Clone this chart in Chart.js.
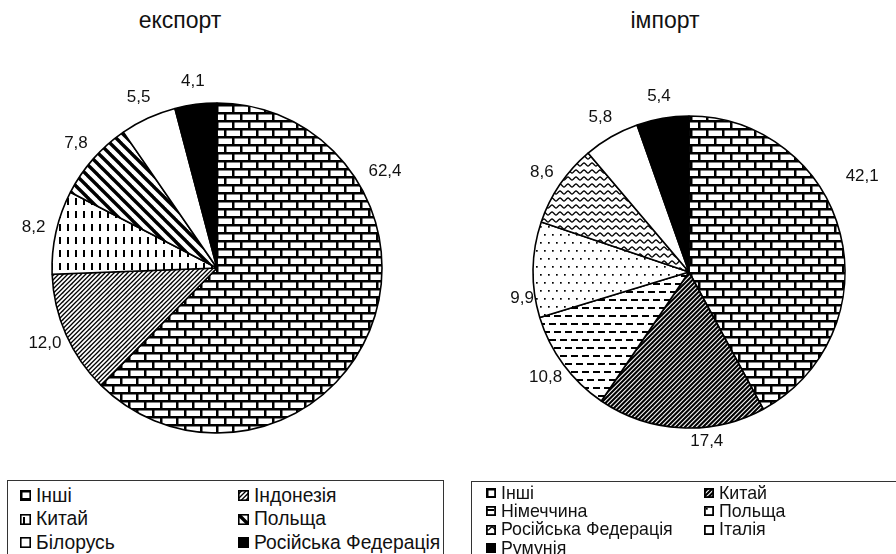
<!DOCTYPE html>
<html><head><meta charset="utf-8">
<script src="https://cdn.jsdelivr.net/npm/chart.js@4"></script>
<style>
body{margin:0;width:896px;height:554px;overflow:hidden;background:#fff;position:relative;font-family:"Liberation Sans",Arial,sans-serif;color:#111}
.title{position:absolute;font-size:23px;line-height:23px;white-space:nowrap;transform:translateX(-50%)}
canvas{position:absolute}
.legend{position:absolute;border:1.5px solid #333;box-sizing:border-box;background:#fff}
.item{position:absolute;white-space:nowrap;display:flex;align-items:center}
.item canvas{position:static;display:block}
</style></head><body>
<div class="title" style="left:180px;top:9px">експорт</div>
<div class="title" style="left:665px;top:9px">імпорт</div>
<canvas id="exp" width="434" height="536" style="left:0;top:0"></canvas>
<canvas id="imp" width="414" height="544" style="left:482px;top:0"></canvas>
<div id="leg1" class="legend" style="left:7px;top:480px;width:437px;height:90px"></div>
<div id="leg2" class="legend" style="left:471px;top:481px;width:440px;height:90px"></div>
<script>
// ---- data ----
const exportLabels = ['Інші','Індонезія','Китай','Польща','Білорусь','Російська Федерація'];
const exportValues = [62.4, 12.0, 8.2, 7.8, 5.5, 4.1];
const importLabels = ['Інші','Китай','Німеччина','Польща','Російська Федерація','Італія','Румунія'];
const importValues = [42.1, 17.4, 10.8, 9.9, 8.6, 5.8, 5.4];
const exportPatterns = ['brick','diagThin','vdash','thickDiag','white','black'];
const importPatterns = ['brick','diagDense','hdash','dots','wave','white','black'];

// ---- patterns ----
function tile(w,h,draw){
  const c=document.createElement('canvas');c.width=w;c.height=h;
  const g=c.getContext('2d');g.fillStyle='#fff';g.fillRect(0,0,w,h);g.fillStyle='#000';g.strokeStyle='#000';
  draw(g,w,h);return c;
}
function diagTile(s,lw,dir){
  return tile(s,s,(g)=>{
    g.lineWidth=lw;
    const half=s/2;
    for(const off of [-s,-half,0,half,s]){
      g.beginPath();
      if(dir==='/'){g.moveTo(off-1,s+1);g.lineTo(off+s+1,-1);}
      else{g.moveTo(off-1,-1);g.lineTo(off+s+1,s+1);}
      g.stroke();
    }
  });
}
function diagSingle(s,lw,dir){
  return tile(s,s,(g)=>{
    g.lineWidth=lw;
    for(const off of [-s,0,s]){
      g.beginPath();
      if(dir==='/'){g.moveTo(off-1,s+1);g.lineTo(off+s+1,-1);}
      else{g.moveTo(off-1,-1);g.lineTo(off+s+1,s+1);}
      g.stroke();
    }
  });
}
const tiles={
  brick: ()=>tile(16,16,(g)=>{g.fillRect(0,0,16,2.5);g.fillRect(0,8,16,2.5);g.fillRect(0,0,2.5,8);g.fillRect(8,8,2.5,8);}),
  diagThin: ()=>diagTile(9,1.3,'/'),
  diagDense: ()=>diagTile(9,2.1,'/'),
  thickDiag: ()=>diagSingle(11,3.4,'\\'),
  vdash: ()=>tile(8,13,(g)=>{g.fillRect(3,3,2,7);}),
  hdash: ()=>tile(22,16,(g)=>{g.fillRect(1,3,7,2);g.fillRect(12,3,7,2);g.fillRect(6,11,7,2);g.fillRect(17,11,5,2);g.fillRect(0,11,2,2);}),
  dots: ()=>tile(16,16,(g)=>{g.fillRect(2,2,1.7,1.7);g.fillRect(10,2,1.7,1.7);g.fillRect(6,10,1.7,1.7);g.fillRect(14,10,1.7,1.7);}),
  wave: ()=>tile(8,7,(g)=>{g.lineWidth=1.3;g.beginPath();for(let x=-1;x<=9;x+=0.5){const y=3.5+1.5*Math.sin(x/8*2*Math.PI);x===-1?g.moveTo(x,y):g.lineTo(x,y);}g.stroke();}),
  white: null, black: null
};
function fillFor(name,ctx){
  if(name==='white')return '#fff';
  if(name==='black')return '#000';
  return ctx.createPattern(tiles[name](),'repeat');
}

// ---- labels plugin ----
const sliceLabels={
  id:'sliceLabels',
  afterDatasetsDraw(chart,args,opts){
    const ctx=chart.ctx, meta=chart.getDatasetMeta(0), vals=chart.data.datasets[0].data;
    ctx.save();ctx.font='17px "Liberation Sans", Arial, sans-serif';ctx.fillStyle='#111';
    ctx.textAlign='center';ctx.textBaseline='middle';
    meta.data.forEach((arc,i)=>{
      const p=arc.getProps(['x','y','startAngle','endAngle','outerRadius'],true);
      const ov=(opts.overrides||{})[i]||{};
      const ang=ov.angle!==undefined?(ov.angle-90)*Math.PI/180:(p.startAngle+p.endAngle)/2;
      const d=p.outerRadius+(ov.pad!==undefined?ov.pad:opts.pad);
      ctx.fillText(vals[i].toFixed(1).replace('.',','),p.x+Math.cos(ang)*d,p.y+Math.sin(ang)*d);
    });
    ctx.restore();
  }
};

function makePie(id,labels,values,patterns,radius,labelOpts){
  const el=document.getElementById(id);const ctx=el.getContext('2d');
  return new Chart(el,{
    type:'pie',
    data:{labels:labels,datasets:[{data:values,backgroundColor:patterns.map(p=>fillFor(p,ctx)),borderColor:'#000',borderWidth:1.6,radius:radius}]},
    options:{responsive:false,animation:false,layout:{padding:0},
      plugins:{legend:{display:false},tooltip:{enabled:false},sliceLabels:labelOpts}},
    plugins:[sliceLabels]
  });
}
makePie('exp',exportLabels,exportValues,exportPatterns,165,{pad:23,overrides:{0:{angle:60,pad:29}}});
makePie('imp',importLabels,importValues,importPatterns,156,{pad:22,overrides:{0:{angle:61,pad:42},1:{angle:174,pad:14},3:{angle:261,pad:13}}});

// ---- legends ----
function icon(name,size,bw){
  const c=document.createElement('canvas');c.width=size;c.height=size;
  const g=c.getContext('2d');g.fillStyle=fillFor(name,g);g.fillRect(0,0,size,size);
  g.lineWidth=bw;g.strokeStyle='#000';g.strokeRect(bw/2,bw/2,size-bw,size-bw);
  return c;
}
function buildLegend(id,labels,patterns,cfg){
  const box=document.getElementById(id);
  labels.forEach((lab,i)=>{
    const col=i%2,row=Math.floor(i/2);
    const d=document.createElement('div');d.className='item';
    d.style.left=cfg.colX[col]+'px';d.style.top=(cfg.top+row*cfg.rowH)+'px';
    d.style.height=cfg.rowH+'px';d.style.fontSize=cfg.font+'px';
    const ic=icon(patterns[i],cfg.icon,cfg.bw);ic.style.marginRight=cfg.gap+'px';
    d.appendChild(ic);d.appendChild(document.createTextNode(lab));box.appendChild(d);
  });
}
buildLegend('leg1',exportLabels,exportPatterns,{colX:[12,230],top:3,rowH:23.5,font:19.3,icon:11,bw:1.6,gap:5});
buildLegend('leg2',importLabels,importPatterns,{colX:[14,232],top:2,rowH:18.3,font:17.8,icon:10,bw:1.8,gap:5});
</script>
</body></html>
